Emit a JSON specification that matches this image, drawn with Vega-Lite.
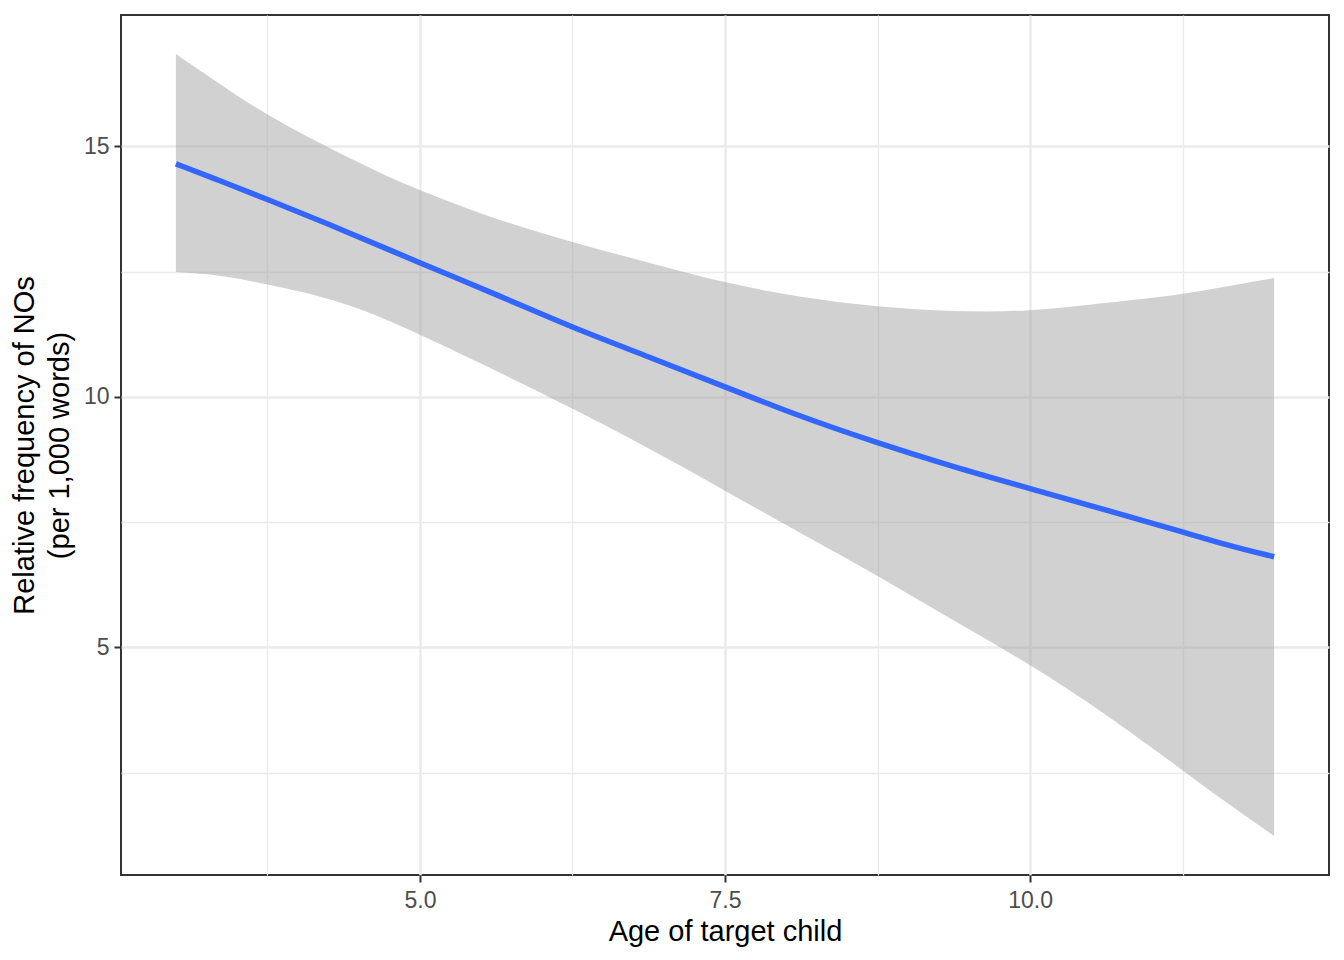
{
  "$schema": "https://vega.github.io/schema/vega-lite/v6.json",
  "width": 1208,
  "height": 860,
  "autosize": {"type": "none"},
  "padding": {"left": 121, "top": 15, "right": 15, "bottom": 85},
  "background": "white",
  "config": {
    "view": {"stroke": "#333333", "strokeWidth": 2},
    "font": "Liberation Sans",
    "axis": {
      "labelFont": "Liberation Sans",
      "labelFontSize": 23,
      "labelColor": "#4D4D4D",
      "titleFont": "Liberation Sans",
      "titleFontSize": 29,
      "titleFontWeight": "normal",
      "titleColor": "#000000",
      "tickColor": "#333333",
      "tickWidth": 2,
      "tickSize": 7,
      "domain": false,
      "gridColor": "#EBEBEB",
      "labelFlush": false
    }
  },
  "data": {
    "values": [
      {"age": 3.0, "fit": 14.65, "lower": 12.49, "upper": 16.84},
      {"age": 3.375, "fit": 14.30, "lower": 12.43, "upper": 16.22},
      {"age": 3.7, "fit": 13.99, "lower": 12.27, "upper": 15.68},
      {"age": 4.39, "fit": 13.31, "lower": 11.91, "upper": 14.79},
      {"age": 5.0, "fit": 12.67, "lower": 11.25, "upper": 14.10},
      {"age": 5.66, "fit": 12.01, "lower": 10.48, "upper": 13.51},
      {"age": 6.25, "fit": 11.38, "lower": 9.77, "upper": 13.08},
      {"age": 6.875, "fit": 10.80, "lower": 8.98, "upper": 12.68},
      {"age": 7.5, "fit": 10.20, "lower": 8.13, "upper": 12.27},
      {"age": 8.125, "fit": 9.60, "lower": 7.27, "upper": 11.98},
      {"age": 8.75, "fit": 9.08, "lower": 6.44, "upper": 11.79},
      {"age": 9.375, "fit": 8.60, "lower": 5.53, "upper": 11.70},
      {"age": 10.0, "fit": 8.17, "lower": 4.67, "upper": 11.70},
      {"age": 10.625, "fit": 7.74, "lower": 3.67, "upper": 11.88},
      {"age": 11.25, "fit": 7.31, "lower": 2.55, "upper": 12.04},
      {"age": 11.6, "fit": 7.05, "lower": 1.92, "upper": 12.20},
      {"age": 12.0, "fit": 6.81, "lower": 1.24, "upper": 12.37}
    ]
  },
  "layer": [
    {
      "mark": {"type": "area", "color": "#999999", "opacity": 0.45, "interpolate": "basis"},
      "encoding": {
        "x": {
          "field": "age", "type": "quantitative",
          "scale": {"domain": [2.55, 12.45], "nice": false, "zero": false},
          "axis": {"orient": "bottom", "values": [3.75, 6.25, 8.75, 11.25], "grid": true, "gridWidth": 1.3, "labels": false, "ticks": false, "title": null}
        },
        "y": {
          "field": "lower", "type": "quantitative",
          "scale": {"domain": [0.46, 17.62], "nice": false, "zero": false},
          "axis": {"orient": "left", "values": [2.5, 7.5, 12.5], "grid": true, "gridWidth": 1.3, "labels": false, "ticks": false, "title": null}
        },
        "y2": {"field": "upper"}
      }
    },
    {
      "mark": {"type": "line", "color": "#3366FF", "strokeWidth": 5.5, "interpolate": "basis"},
      "encoding": {
        "x": {
          "field": "age", "type": "quantitative",
          "axis": {"orient": "bottom", "values": [5, 7.5, 10], "format": ".1f", "grid": true, "gridWidth": 2.5, "title": "Age of target child", "labelPadding": 7, "titlePadding": 5}
        },
        "y": {
          "field": "fit", "type": "quantitative",
          "axis": {"orient": "left", "values": [5, 10, 15], "format": "d", "grid": true, "gridWidth": 2.5, "title": ["Relative frequency of NOs", "(per 1,000 words)"], "titleLineHeight": 35, "labelPadding": 5, "titlePadding": 9}
        }
      }
    }
  ],
  "resolve": {"axis": {"x": "independent", "y": "independent"}}
}
